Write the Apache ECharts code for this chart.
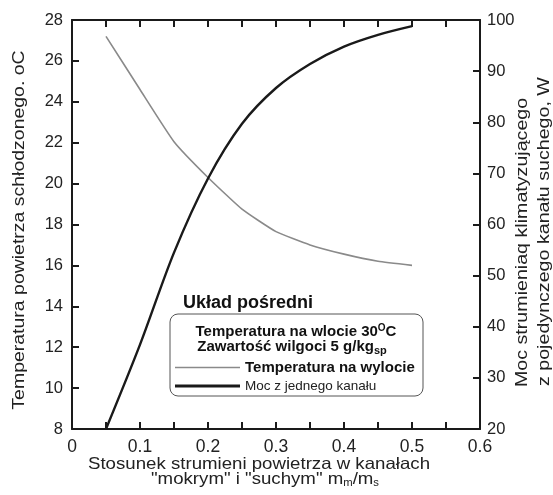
<!DOCTYPE html>
<html>
<head>
<meta charset="utf-8">
<script src="https://cdn.jsdelivr.net/npm/echarts@6/dist/echarts.min.js"></script>
<style>
  html, body { margin: 0; padding: 0; background: #fff; }
  #chart { width: 553px; height: 495px; }
</style>
</head>
<body>
<div id="chart"></div>
<script>
// stosunek strumieni m_m/m_s
const ratio = [0.05, 0.1, 0.15, 0.2, 0.25, 0.3, 0.35, 0.4, 0.45, 0.5]
// temperatura na wylocie, oC (lewa os)
const tempOut = [27.2, 24.6, 22.05, 20.3, 18.75, 17.65, 17.0, 16.55, 16.2, 16.0]
// moc z jednego kanalu, W (prawa os)
const power = [20, 36.5, 54.5, 69, 79.7, 86.7, 91.4, 94.8, 97.1, 98.8]

const FONT = 'Liberation Sans, Arial, sans-serif'
const INK = '#1a1a1a'

const chart = echarts.init(document.getElementById('chart'), null, { renderer: 'canvas' })

const tick = { show: true, inside: true, length: 7, lineStyle: { color: INK, width: 2 } }
const axisLine = { show: true, onZero: false, lineStyle: { color: INK, width: 2 } }
const label = { color: '#222', fontSize: 16.5, fontFamily: FONT }

const xLabel = v => {
  const r = Math.round(v * 100)
  if (r % 10 !== 0) return ''
  return r === 0 ? '0' : (r / 100).toFixed(1)
}

// opisy osi - tekst lekko rozciagniety w poziomie jak w oryginale
const title = (text, x, y, rot, sx, align) => ({
  type: 'text', x, y, rotation: rot, scaleX: sx, z: 10,
  style: { text, font: '16.5px ' + FONT, fill: '#222', align: align || 'center', verticalAlign: 'middle' }
})

const option = {
  animation: false,
  backgroundColor: '#fff',
  grid: { left: 72, right: 73, top: 20, bottom: 66, containLabel: false, outerBoundsMode: 'none' },
  xAxis: [
    {
      type: 'value', position: 'bottom', min: 0, max: 0.6, interval: 0.05,
      axisLine, axisTick: tick, splitLine: { show: false },
      axisLabel: Object.assign({}, label, { margin: 9, fontSize: 17.5, formatter: xLabel })
    },
    {
      type: 'value', position: 'top', min: 0, max: 0.6, interval: 0.05,
      axisLine, axisTick: tick, splitLine: { show: false }, axisLabel: { show: false }
    }
  ],
  yAxis: [
    {
      type: 'value', position: 'left', min: 8, max: 28, interval: 2,
      axisLine, axisTick: tick, splitLine: { show: false },
      axisLabel: Object.assign({ margin: 9 }, label)
    },
    {
      type: 'value', position: 'right', min: 20, max: 100, interval: 10,
      axisLine, axisTick: tick, splitLine: { show: false },
      axisLabel: Object.assign({ margin: 7 }, label)
    }
  ],
  legend: [
    {
      data: ['Temperatura na wylocie'],
      left: 175, top: 360, padding: 0, icon: 'rect', itemWidth: 65, itemHeight: 1.6, itemGap: 0, z: 10,
      textStyle: { color: '#111', fontFamily: FONT, fontWeight: 'bold', fontSize: 15 },
      selectedMode: false
    },
    {
      data: ['Moc z jednego kanału'],
      left: 175, top: 379, padding: 0, icon: 'rect', itemWidth: 65, itemHeight: 3, itemGap: 0, z: 10,
      textStyle: { color: '#222', fontFamily: FONT, fontSize: 13.5 },
      selectedMode: false
    }
  ],
  series: [
    {
      name: 'Temperatura na wylocie', type: 'line', xAxisIndex: 0, yAxisIndex: 0,
      data: ratio.map((x, i) => [x, tempOut[i]]),
      smooth: 0.15, showSymbol: false,
      lineStyle: { color: '#8a8a8a', width: 1.6 }, itemStyle: { color: '#8a8a8a' }
    },
    {
      name: 'Moc z jednego kanału', type: 'line', xAxisIndex: 0, yAxisIndex: 1,
      data: ratio.map((x, i) => [x, power[i]]),
      smooth: 0.3, showSymbol: false,
      lineStyle: { color: INK, width: 2.4 }, itemStyle: { color: INK }
    }
  ],
  graphic: [
    title('Temperatura powietrza schłodzonego. oC', 19, 230, Math.PI / 2, 1.18),
    title('Moc strumieniaq klimatyzującego', 522, 387, Math.PI / 2, 1.19, 'left'),
    title('z pojedynczego kanału suchego, W', 544, 386, Math.PI / 2, 1.19, 'left'),
    title('Stosunek strumieni powietrza w kanałach', 259, 464, 0, 1.13),
    {
      type: 'text', x: 265, y: 479, scaleX: 1.13, z: 10,
      style: {
        text: '{a|"mokrym" i "suchym" m}{s|m}{a|/m}{s|s}',
        align: 'center', verticalAlign: 'middle',
        rich: {
          a: { font: '16.5px ' + FONT, fill: '#222', lineHeight: 18, verticalAlign: 'middle' },
          s: { font: '10px ' + FONT, fill: '#222', lineHeight: 18, verticalAlign: 'bottom' }
        }
      }
    },
    // ramka legendy
    {
      type: 'text', x: 183, y: 303, z: 10,
      style: { text: 'Układ pośredni', font: 'bold 18px ' + FONT, fill: '#111', align: 'left', verticalAlign: 'middle' }
    },
    {
      type: 'rect', z: 0,
      shape: { x: 170, y: 314, width: 253, height: 82, r: 8 },
      style: { fill: '#fff', stroke: '#555', lineWidth: 1 }
    },
    {
      type: 'text', x: 296, y: 331, z: 10,
      style: {
        text: '{a|Temperatura na wlocie 30}{p|O}{a|C}',
        align: 'center', verticalAlign: 'middle',
        rich: {
          a: { font: 'bold 15px ' + FONT, fill: '#111', lineHeight: 16, verticalAlign: 'bottom' },
          p: { font: 'bold 10px ' + FONT, fill: '#111', lineHeight: 16, verticalAlign: 'top' }
        }
      }
    },
    {
      type: 'text', x: 292, y: 348, z: 10,
      style: {
        text: '{a|Zawartość wilgoci 5 g/kg}{s|sp}',
        align: 'center', verticalAlign: 'middle',
        rich: {
          a: { font: 'bold 15px ' + FONT, fill: '#111', lineHeight: 17, verticalAlign: 'top' },
          s: { font: 'bold 11px ' + FONT, fill: '#111', lineHeight: 17, verticalAlign: 'bottom' }
        }
      }
    }
  ]
}

chart.setOption(option)
</script>
</body>
</html>
